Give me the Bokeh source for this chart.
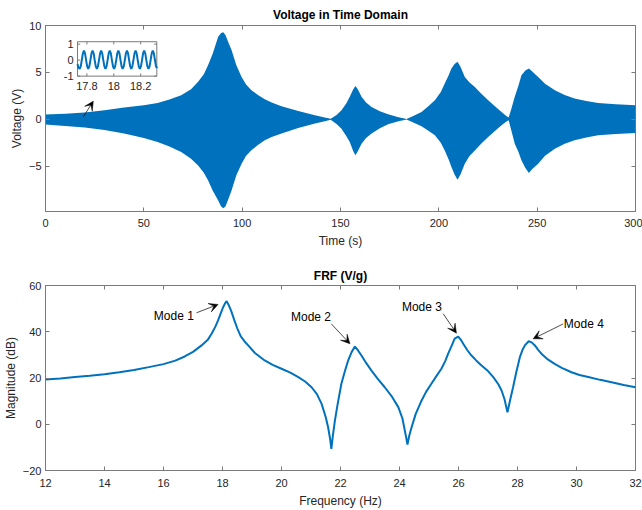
import numpy as np
from bokeh.plotting import figure
from bokeh.layouts import column
from bokeh.models import Range1d, LinearAxis, FixedTicker, Arrow, VeeHead, ColumnDataSource
from bokeh.embed import file_html
from bokeh.resources import INLINE
from bokeh.core.properties import value

# ---------------- data ----------------
# voltage envelope (time s, upper V, lower V)
env_t = [0, 10, 20, 30, 40, 50, 57, 63, 69, 74, 77.6, 80.5, 82.7, 85, 87.8, 89.3, 90.4, 91.5, 93,
         94.6, 97, 99.7, 102, 104.7, 108, 111.5, 115, 120, 128.5, 137, 142, 145, 148, 150.5, 153,
         154.7, 156.5, 157.6, 158.8, 160.7, 163, 165.8, 170, 174.2, 179, 183.6, 187, 191.2, 194.5,
         198, 201, 203, 205, 206.4, 208, 209.5, 211, 213.2, 215.5, 218.3, 221.5, 225.1, 228.5,
         231.9, 234, 235.5, 237, 238.6, 240.5, 242, 244, 245.8, 247.5, 250.5, 254, 259, 264, 269,
         275, 281, 290, 300]
env_hi = [0.5, 0.6, 0.72, 0.95, 1.25, 1.5, 1.74, 2.1, 2.57, 3.2, 3.99, 4.8, 5.78, 7.0, 8.8, 9.2, 9.27,
          9.0, 8.2, 7.38, 5.8, 4.52, 3.7, 3.1, 2.6, 2.14, 1.8, 1.39, 0.89, 0.43, 0.18, 0.05, 0.45,
          0.96, 1.7, 2.39, 3.2, 3.56, 3.2, 2.39, 1.8, 1.32, 0.85, 0.53, 0.25, 0.03, 0.35, 0.78, 1.35,
          2.03, 2.9, 3.82, 4.7, 5.42, 5.9, 6.13, 5.6, 4.52, 3.95, 3.45, 2.75, 2.03, 1.4, 0.78, 0.4,
          0.2, 1.2, 2.39, 3.6, 4.7, 5.2, 5.42, 5.1, 4.52, 3.8, 3.1, 2.6, 2.21, 1.95, 1.74, 1.6, 1.5]
env_lo = [-0.57, -0.72, -0.89, -1.15, -1.53, -2.0, -2.43, -2.9, -3.5, -4.2, -4.92, -5.7, -6.52, -7.6,
          -8.66, -9.3, -9.49, -9.3, -8.5, -7.6, -6.0, -4.74, -3.9, -3.3, -2.75, -2.25, -1.9, -1.53,
          -0.93, -0.46, -0.2, -0.05, -0.5, -1.0, -1.8, -2.43, -3.4, -3.85, -3.4, -2.6, -2.0, -1.53,
          -0.95, -0.53, -0.25, -0.03, -0.35, -0.75, -1.2, -1.71, -2.5, -3.32, -4.3, -5.1, -5.9,
          -6.45, -5.9, -4.74, -3.95, -3.32, -2.6, -1.89, -1.25, -0.64, -0.3, -0.1, -1.3, -2.6, -3.5,
          -4.38, -5.2, -5.74, -5.3, -4.74, -3.9, -3.14, -2.6, -2.25, -1.95, -1.71, -1.57, -1.46]

# inset: zoomed voltage samples
inset_t = [17.730, 17.738, 17.746, 17.754, 17.762, 17.770, 17.778, 17.786, 17.794, 17.802, 17.810,
           17.818, 17.826, 17.834, 17.842, 17.850, 17.858, 17.866, 17.874, 17.882, 17.890, 17.898,
           17.906, 17.914, 17.922, 17.930, 17.938, 17.946, 17.954, 17.962, 17.970, 17.978, 17.986,
           17.994, 18.002, 18.010, 18.018, 18.026, 18.034, 18.042, 18.050, 18.058, 18.066, 18.074,
           18.082, 18.090, 18.098, 18.106, 18.114, 18.122, 18.130, 18.138, 18.146, 18.154, 18.162,
           18.170, 18.178, 18.186, 18.194, 18.202, 18.210, 18.218, 18.226, 18.234, 18.242, 18.250,
           18.258, 18.266, 18.274, 18.282, 18.290, 18.298, 18.306, 18.314, 18.322]
inset_v = [-0.25, -0.48, -0.55, -0.39, 0.0, 0.42, 0.6, 0.42, 0.0, -0.39, -0.55, -0.39, 0.0, 0.42,
           0.6, 0.42, 0.0, -0.39, -0.55, -0.39, 0.0, 0.42, 0.6, 0.42, 0.0, -0.39, -0.55, -0.39,
           0.0, 0.42, 0.6, 0.42, 0.0, -0.39, -0.55, -0.39, 0.0, 0.42, 0.6, 0.42, 0.0, -0.39, -0.55,
           -0.39, 0.0, 0.42, 0.6, 0.42, 0.0, -0.39, -0.55, -0.39, 0.0, 0.42, 0.6, 0.42, 0.0, -0.39,
           -0.55, -0.39, 0.0, 0.42, 0.6, 0.42, 0.0, -0.39, -0.55, -0.39, 0.0, 0.42, 0.6, 0.42, 0.0,
           -0.39, -0.5]
inset_xlim = (17.73, 18.32)
inset_ylim = (-1.0, 1.15)
inset_xticks = [17.8, 18.0, 18.2]
inset_xlabels = ["17.8", "18", "18.2"]
inset_yticks = [-1, 0, 1]
inset_ylabels = ["-1", "0", "1"]

# FRF magnitude (Hz, dB)
frf_f = [12.0, 12.5, 13.0, 13.5, 14.0, 14.5, 15.0, 15.5, 16.0, 16.4, 16.72, 17.0, 17.29, 17.5, 17.63,
         17.75, 17.85, 17.95, 18.02, 18.1, 18.14, 18.2, 18.3, 18.4, 18.5, 18.62, 18.75, 18.87, 19.1,
         19.43, 19.7, 20.0, 20.3, 20.57, 20.8, 21.02, 21.2, 21.36, 21.5, 21.58, 21.65, 21.69, 21.74,
         21.81, 21.9, 22.03, 22.15, 22.26, 22.38, 22.49, 22.6, 22.71, 22.88, 23.05, 23.27, 23.5,
         23.75, 23.96, 24.1, 24.18, 24.23, 24.27, 24.33, 24.41, 24.55, 24.75, 24.9, 25.08, 25.25,
         25.42, 25.55, 25.65, 25.77, 25.87, 25.99, 26.08, 26.16, 26.3, 26.44, 26.6, 26.78, 27.0,
         27.18, 27.35, 27.46, 27.56, 27.66, 27.75, 27.85, 27.96, 28.08, 28.17, 28.25, 28.38, 28.48,
         28.59, 28.7, 28.81, 29.0, 29.26, 29.5, 29.83, 30.1, 30.4, 30.8, 31.19, 31.6, 32.0]
frf_db = [19.4, 19.8, 20.4, 21.0, 21.65, 22.5, 23.5, 24.7, 26.0, 27.5, 29.3, 31.3, 34.1, 36.5, 39.1,
          42.0, 44.9, 48.3, 50.6, 52.6, 53.2, 51.8, 48.8, 45.0, 41.5, 38.0, 35.8, 34.1, 30.8, 27.6,
          25.7, 24.0, 22.3, 20.4, 18.5, 16.0, 13.0, 8.8, 3.0, -1.3, -6.5, -10.6, -5.0, 1.6, 8.5,
          17.5, 23.0, 27.6, 31.3, 33.6, 31.8, 29.7, 26.3, 23.2, 19.5, 16.0, 11.8, 7.4, 2.5, -2.7,
          -6.0, -8.8, -5.0, -1.3, 4.5, 10.3, 14.0, 17.5, 20.8, 24.0, 27.3, 30.5, 34.0, 37.0, 37.9,
          36.5, 34.8, 32.0, 29.7, 27.6, 25.4, 23.0, 20.4, 17.3, 14.6, 10.8, 5.2, 10.5, 16.0, 22.6,
          29.0, 32.2, 34.1, 35.9, 35.4, 34.1, 32.2, 30.5, 28.3, 26.1, 24.4, 22.5, 21.3, 20.4, 19.2,
          18.2, 17.0, 16.0]

# mode annotations
mode_names = ["Mode 1", "Mode 2", "Mode 3", "Mode 4"]
mode_text_f = [16.35, 21.0, 24.76, 30.25]
mode_text_db = [46.8, 46.3, 50.6, 43.4]
mode_tail_f = [17.12, 21.69, 25.48, 29.55]
mode_tail_db = [48.2, 43.4, 47.8, 43.4]
mode_head_f = [17.85, 22.32, 25.93, 28.53]
mode_head_db = [51.8, 34.8, 39.4, 36.95]

# inset pointer arrow (time s, V)
ptr_tail = (19.2, 0.25)
ptr_head = (24.3, 1.93)

time_ticks = [0, 50, 100, 150, 200, 250, 300]
volt_ticks = [-5, 0, 5, 10]
freq_ticks = [12, 14, 16, 18, 20, 22, 24, 26, 28, 30, 32]
mag_ticks = [-20, 0, 20, 40, 60]

# ---------------- styling ----------------
BLUE = "#0072BD"
FONT = "Liberation Sans"
TXT = "#262626"
FRAME = "#7a7a7a"


def style(p, xticks, yticks, xlabel, ylabel):
    p.outline_line_color = FRAME
    p.outline_line_width = 1
    p.grid.visible = False
    p.background_fill_color = "white"
    p.border_fill_color = "white"
    p.xaxis.ticker = FixedTicker(ticks=xticks)
    p.yaxis.ticker = FixedTicker(ticks=yticks)
    for ax in list(p.xaxis) + list(p.yaxis):
        ax.axis_line_color = FRAME
        ax.major_tick_line_color = FRAME
        ax.major_tick_in = 4
        ax.major_tick_out = 0
        ax.minor_tick_line_color = None
        ax.major_label_text_font = FONT
        ax.major_label_text_font_size = "11px"
        ax.major_label_text_color = TXT
        ax.axis_label_text_font = FONT
        ax.axis_label_text_font_size = "12px"
        ax.axis_label_text_font_style = "normal"
        ax.axis_label_text_color = TXT
    p.xaxis.major_label_standoff = 7
    p.yaxis.major_label_standoff = 4
    p.xaxis.axis_label_standoff = 4
    p.yaxis.axis_label_standoff = 2
    p.xaxis.axis_label = xlabel
    p.yaxis.axis_label = ylabel
    for loc, tk in (("above", xticks), ("right", yticks)):
        a = LinearAxis(ticker=FixedTicker(ticks=tk), axis_line_color=None,
                       major_tick_line_color=FRAME, major_tick_in=4, major_tick_out=0,
                       minor_tick_line_color=None, major_label_standoff=0,
                       major_label_overrides={t: "" for t in tk})
        p.add_layout(a, loc)
    p.title.align = "center"
    p.title.text_font = FONT
    p.title.text_font_size = "12px"
    p.title.text_font_style = "bold"
    p.title.text_color = "black"


# ---------------- top: voltage ----------------
p1 = figure(frame_width=590, frame_height=186, x_range=Range1d(0, 300), y_range=Range1d(-9.84, 10),
            output_backend="svg", toolbar_location=None,
            min_border_left=44, min_border_right=8, min_border_top=25, min_border_bottom=44,
            title="Voltage in Time Domain")
style(p1, time_ticks, volt_ticks, "Time (s)", "Voltage (V)")
p1.title.standoff = 8
p1.varea(x=env_t, y1=env_lo, y2=env_hi, fill_color=BLUE, fill_alpha=1.0)
p1.add_layout(Arrow(x_start=ptr_tail[0], y_start=ptr_tail[1], x_end=ptr_head[0], y_end=ptr_head[1],
                    line_color="black", line_width=0.7,
                    end=VeeHead(size=9, fill_color="black", line_color="black", line_width=0.5)))

# inset drawn in sub-coordinates of the top plot (target box in parent data units)
sub = p1.subplot(x_source=Range1d(*inset_xlim), y_source=Range1d(*inset_ylim),
                 x_target=Range1d(16.27, 56.6), y_target=Range1d(4.6, 8.27))
sub.quad(left=[inset_xlim[0]], right=[inset_xlim[1]], bottom=[inset_ylim[0]], top=[inset_ylim[1]],
         fill_color="white", line_color=FRAME, line_width=1)
tick_dy = 0.17
tick_dx = 0.02
sub.segment(x0=inset_xticks, y0=[inset_ylim[0]] * 3, x1=inset_xticks, y1=[inset_ylim[0] + tick_dy] * 3,
            line_color=FRAME, line_width=1)
sub.segment(x0=inset_xticks, y0=[inset_ylim[1]] * 3, x1=inset_xticks, y1=[inset_ylim[1] - tick_dy] * 3,
            line_color=FRAME, line_width=1)
sub.segment(x0=[inset_xlim[0]] * 3, y0=inset_yticks, x1=[inset_xlim[0] + tick_dx] * 3, y1=inset_yticks,
            line_color=FRAME, line_width=1)
sub.segment(x0=[inset_xlim[1]] * 3, y0=inset_yticks, x1=[inset_xlim[1] - tick_dx] * 3, y1=inset_yticks,
            line_color=FRAME, line_width=1)
sub.line(inset_t, inset_v, line_color=BLUE, line_width=2)
sub.text(x=inset_xticks, y=[inset_ylim[0]] * 3, text=inset_xlabels, y_offset=6,
         text_font=value(FONT), text_font_size="11px", text_color=TXT,
         text_align="center", text_baseline="top")
sub.text(x=[inset_xlim[0]] * 3, y=inset_yticks, text=inset_ylabels, x_offset=-4,
         text_font=value(FONT), text_font_size="11px", text_color=TXT,
         text_align="right", text_baseline="middle")

# ---------------- bottom: FRF ----------------
p2 = figure(frame_width=590, frame_height=185, x_range=Range1d(12, 32), y_range=Range1d(-20, 60),
            output_backend="svg", toolbar_location=None,
            min_border_left=44, min_border_right=8, min_border_top=30, min_border_bottom=40,
            title="FRF (V/g)")
style(p2, freq_ticks, mag_ticks, "Frequency (Hz)", "Magnitude (dB)")
p2.xaxis.major_label_standoff = 8
p2.title.standoff = 5
p2.line(frf_f, frf_db, line_color=BLUE, line_width=2)
for i in range(len(mode_names)):
    p2.add_layout(Arrow(x_start=mode_tail_f[i], y_start=mode_tail_db[i],
                        x_end=mode_head_f[i], y_end=mode_head_db[i],
                        line_color="black", line_width=0.7,
                        end=VeeHead(size=9, fill_color="black", line_color="black", line_width=0.5)))
src = ColumnDataSource(dict(x=mode_text_f, y=mode_text_db, t=mode_names))
p2.text(x="x", y="y", text="t", source=src, text_font=value(FONT), text_font_size="12px",
        text_color="black", text_align="center", text_baseline="middle")

layout = column(p1, p2, spacing=0)
open("out.html", "w").write(file_html(layout, INLINE))
